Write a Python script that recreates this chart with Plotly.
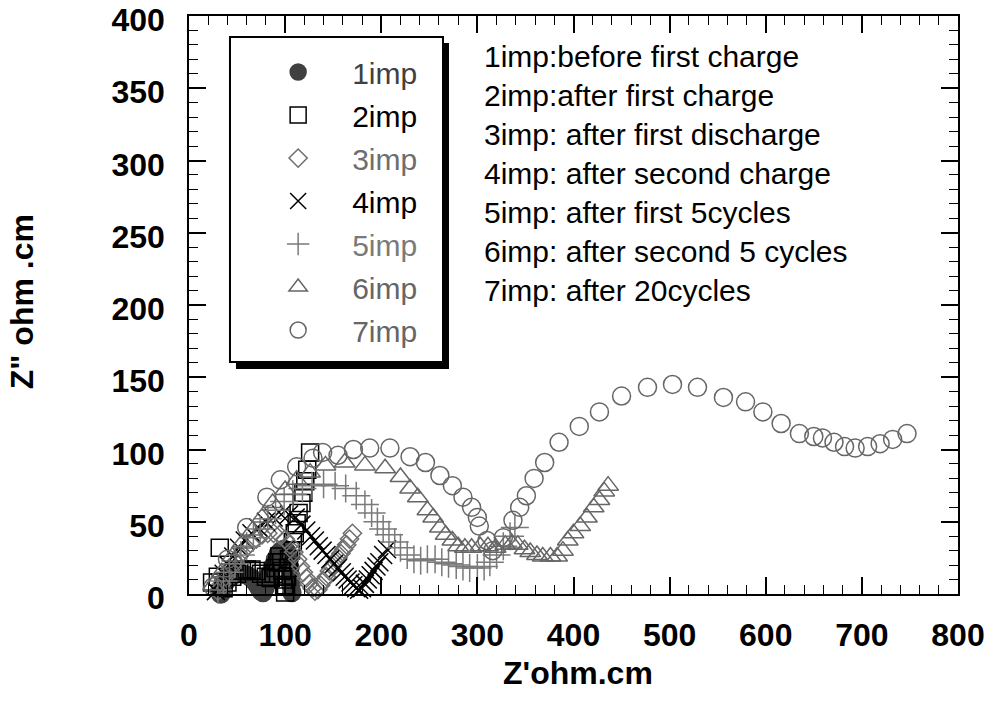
import plotly.graph_objects as go

# Nyquist data: Z' (x) and -Z'' (y), ohm.cm
imp1_x = [33, 35, 38, 42, 46, 50, 55, 60, 65, 69, 72, 75, 77, 79, 81, 84, 87, 90, 93, 96, 99, 102, 104, 105, 106, 106, 107]
imp1_y = [0, 4, 8, 11, 13, 14, 14, 13, 11, 8, 5, 2, 1, 4, 9, 14, 19, 24, 28, 30, 31, 29, 24, 18, 12, 6, 1]

imp2_x = [24, 32, 30, 36, 40, 45, 50, 55, 60, 65, 70, 75, 80, 85, 88, 90, 92, 94, 96, 97, 98, 99, 100,
          101, 102, 103, 104, 106, 108, 110, 112, 114, 117, 119, 121, 123, 126]
imp2_y = [8, 32, 12, 4, 8, 12, 14, 16, 17, 17, 16, 14, 12, 11, 14, 18, 22, 26, 22, 16, 10, 5, 1,
          6, 12, 18, 24, 30, 36, 42, 49, 56, 63, 70, 78, 86, 98]

imp3_x = [30, 34, 38, 43, 48, 53, 58, 64, 70, 76, 82, 88, 94, 100, 105, 109, 113, 116, 119, 122, 125, 128,
          131, 134, 137, 140, 143, 146, 149, 152, 155, 158, 161, 164, 167, 170]
imp3_y = [2, 7, 12, 17, 22, 27, 31, 35, 38, 41, 42, 42, 41, 38, 34, 29, 24, 19, 15, 11, 7, 4,
          2, 3, 6, 9, 12, 16, 19, 22, 25, 28, 31, 34, 38, 42]

imp4_x = [28, 32, 36, 41, 46, 52, 58, 65, 72, 80, 88, 96, 104, 111, 117, 122, 127, 131, 135, 139, 143, 147,
          151, 155, 159, 162, 165, 168, 171, 174, 177, 180, 183, 186, 189, 192, 195, 198, 202, 206]
imp4_y = [2, 8, 14, 20, 26, 32, 37, 42, 46, 50, 53, 55, 55, 53, 48, 44, 40, 37, 33, 30, 27, 24,
          21, 18, 15, 12, 10, 8, 6, 4, 3, 4, 7, 10, 13, 16, 19, 22, 27, 31]

imp5_x = [30, 36, 42, 48, 54, 60, 67, 74, 82, 90, 99, 108, 118, 128, 140, 152, 163, 174, 183, 190, 196, 202,
          208, 214, 220, 227, 234, 241, 248, 256, 263, 270, 278, 285, 292, 300, 307, 313, 320, 327, 334, 339]
imp5_y = [3, 9, 15, 21, 27, 33, 39, 45, 52, 58, 64, 69, 73, 75, 76, 75, 73, 68, 62, 56, 50, 45,
          41, 36, 32, 27, 24, 23, 24, 24, 22, 21, 20, 19, 18, 18, 19, 22, 27, 33, 40, 46]

imp6_x = [25, 34, 45, 55, 66, 76, 87, 100, 112, 126, 142, 162, 183, 204, 220, 230, 238, 248, 254, 261, 267,
          274, 280, 287, 294, 303, 311, 319, 329, 336, 342, 349, 355, 362, 368, 376, 383, 389, 394, 400,
          407, 414, 421, 427, 432, 436]
imp6_y = [6, 15, 26, 35, 44, 53, 63, 72, 79, 84, 89, 91, 89, 87, 81, 73, 67, 58, 53, 46, 41,
          37, 33, 32, 32, 33, 33, 32, 34, 35, 34, 31, 29, 27, 26, 26, 26, 30, 37, 42,
          47, 53, 60, 65, 71, 75]

imp7_x = [25, 40, 60, 81, 95, 112, 129, 139, 155, 171, 188, 209, 230, 246, 261, 274, 285, 294, 300, 302,
          310, 316, 327, 337, 344, 351, 359, 370, 385, 406, 427, 450, 477, 503, 529, 556, 579, 597,
          616, 635, 650, 659, 671, 682, 693, 706, 719, 732, 747]
imp7_y = [5, 24, 46, 67, 79, 88, 94, 98, 96, 100, 101, 101, 95, 91, 82, 75, 67, 60, 53, 47,
          37, 30, 39, 51, 60, 68, 80, 91, 105, 116, 126, 137, 143, 145, 143, 136, 133, 126,
          118, 111, 109, 108, 105, 102, 101, 102, 104, 107, 111]

names = ["1imp", "2imp", "3imp", "4imp", "5imp", "6imp", "7imp"]
xs = [imp1_x, imp2_x, imp3_x, imp4_x, imp5_x, imp6_x, imp7_x]
ys = [imp1_y, imp2_y, imp3_y, imp4_y, imp5_y, imp6_y, imp7_y]
symbols = ["circle", "square-open", "diamond-open", "x-thin-open", "cross-thin-open",
           "triangle-up-open", "circle-open"]
colors = ["#404040", "#000000", "#6e6e6e", "#000000", "#7a7a7a", "#666666", "#666666"]
sizes = [18, 17, 14, 18, 20, 18, 18]

notes = ["1imp:before first charge", "2imp:after first charge", "3imp: after first discharge",
         "4imp: after second charge", "5imp: after first 5cycles", "6imp: after second 5 cycles",
         "7imp: after 20cycles"]

FONT = "Liberation Sans, Arial, sans-serif"

fig = go.Figure()
for name, x, y, sym, col, sz in zip(names, xs, ys, symbols, colors, sizes):
    fig.add_trace(go.Scatter(
        x=x, y=y, mode="markers", cliponaxis=False, legendgroup=name,
        name=f"<span style='color:{col}'>{name}</span>",
        marker=dict(symbol=sym, size=sz, color=col, line=dict(width=1.5, color=col)),
    ))

axis_common = dict(
    showline=True, linecolor="#000", linewidth=1.5, mirror="allticks",
    ticks="inside", ticklen=17, tickwidth=1.5, tickcolor="#000",
    showgrid=False, zeroline=False, automargin=False, ticklabeloverflow="allow",
    tickfont=dict(family=FONT, size=32, color="#000", weight="bold"),
)
fig.update_xaxes(range=[0, 800.01], dtick=100, ticklabelstandoff=12,
                 minor=dict(dtick=20, ticks="inside", ticklen=9, tickcolor="#000", tickwidth=1.2),
                 **axis_common)
fig.update_yaxes(range=[0, 400.01], dtick=50, ticklabelstandoff=16, ticklabelshift=4,
                 minor=dict(dtick=10, ticks="inside", ticklen=9, tickcolor="#000", tickwidth=1.2),
                 **axis_common)

# legend frame with drop shadow
fig.add_shape(type="rect", xref="paper", yref="paper", x0=0.0611, x1=0.3381, y0=0.3893, y1=0.9533,
              fillcolor="#000", line=dict(width=0), layer="above")
fig.add_shape(type="rect", xref="paper", yref="paper", x0=0.0533, x1=0.3303, y0=0.4014, y1=0.9637,
              fillcolor="#fff", line=dict(width=2, color="#000"), layer="above")

fig.add_annotation(xref="paper", yref="paper", x=0.381, y=0.9615, xanchor="left", yanchor="top",
                   align="left", showarrow=False, text="<br>".join(notes),
                   font=dict(family=FONT, size=30, color="#000"))
fig.add_annotation(xref="paper", yref="paper", x=0.506, y=-0.136, xanchor="center", yanchor="middle",
                   showarrow=False, text="Z'ohm.cm",
                   font=dict(family=FONT, size=32, color="#000", weight="bold"))
fig.add_annotation(xref="paper", yref="paper", x=-0.217, y=0.505, xanchor="center", yanchor="middle",
                   showarrow=False, text='Z" ohm .cm', textangle=-90,
                   font=dict(family=FONT, size=32, color="#000", weight="bold"))

fig.update_layout(
    width=985, height=702,
    margin=dict(l=189, r=27, t=16, b=108),
    plot_bgcolor="#fff", paper_bgcolor="#fff",
    showlegend=True,
    legend=dict(x=0.0717, y=0.948, xanchor="left", yanchor="top", bgcolor="rgba(0,0,0,0)",
                borderwidth=0, itemwidth=98, tracegroupgap=1,
                font=dict(family=FONT, size=30, color="#000")),
)

fig.write_html("out.html", config={"displayModeBar": False},
               post_script="document.body.style.margin='0';")
